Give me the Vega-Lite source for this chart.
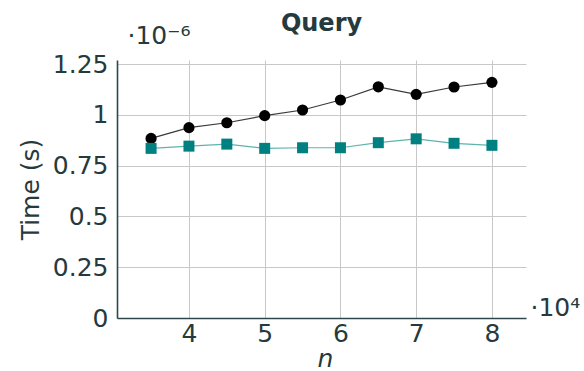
{
  "$schema": "https://vega.github.io/schema/vega-lite/v6.json",
  "width": 409,
  "height": 258,
  "autosize": {"type": "none"},
  "padding": {"left": 117, "top": 60, "right": 58, "bottom": 53},
  "background": "white",
  "title": {"text": "Query", "font": "DejaVu Sans", "fontSize": 24, "fontWeight": "bold", "color": "#243a3e", "anchor": "middle", "frame": "group", "offset": -13},
  "data": {"values": [
    {"n": 3.5, "time": 0.884, "s": "A"},
    {"n": 4.0, "time": 0.937, "s": "A"},
    {"n": 4.5, "time": 0.961, "s": "A"},
    {"n": 5.0, "time": 0.996, "s": "A"},
    {"n": 5.5, "time": 1.024, "s": "A"},
    {"n": 6.0, "time": 1.073, "s": "A"},
    {"n": 6.5, "time": 1.138, "s": "A"},
    {"n": 7.0, "time": 1.101, "s": "A"},
    {"n": 7.5, "time": 1.137, "s": "A"},
    {"n": 8.0, "time": 1.160, "s": "A"},
    {"n": 3.5, "time": 0.835, "s": "B"},
    {"n": 4.0, "time": 0.846, "s": "B"},
    {"n": 4.5, "time": 0.856, "s": "B"},
    {"n": 5.0, "time": 0.835, "s": "B"},
    {"n": 5.5, "time": 0.838, "s": "B"},
    {"n": 6.0, "time": 0.838, "s": "B"},
    {"n": 6.5, "time": 0.863, "s": "B"},
    {"n": 7.0, "time": 0.882, "s": "B"},
    {"n": 7.5, "time": 0.860, "s": "B"},
    {"n": 8.0, "time": 0.850, "s": "B"}
  ]},
  "layer": [
    {
      "encoding": {
        "x": {"field": "n", "type": "quantitative", "scale": {"domain": [3.05, 8.45], "nice": false, "zero": false},
              "axis": {"values": [4, 5, 6, 7, 8], "format": "d", "title": "n", "titleFontStyle": "italic", "titleFontWeight": "normal", "titleX": 208, "titleY": 40, "titleBaseline": "middle", "titleAlign": "center", "labelPadding": 3, "grid": true}},
        "y": {"field": "time", "type": "quantitative", "scale": {"domain": [0, 1.27], "nice": false},
              "axis": {"values": [0, 0.25, 0.5, 0.75, 1, 1.25], "format": ".3~f", "title": "Time (s)", "titleFontWeight": "normal", "titleAngle": -90, "titleX": -87, "titleY": 129, "titleAlign": "center", "titleBaseline": "middle", "labelPadding": 9, "grid": true}}
      },
      "layer": [
        {"transform": [{"filter": "datum.s === 'A'"}], "mark": {"type": "line", "color": "#3a3a3a", "strokeWidth": 1.2}},
        {"transform": [{"filter": "datum.s === 'A'"}], "mark": {"type": "point", "shape": "circle", "filled": true, "color": "#000000", "opacity": 1, "size": 125}},
        {"transform": [{"filter": "datum.s === 'B'"}], "mark": {"type": "line", "color": "#5fb3ae", "strokeWidth": 1.2}},
        {"transform": [{"filter": "datum.s === 'B'"}], "mark": {"type": "point", "shape": "square", "filled": true, "color": "#008080", "opacity": 1, "size": 121}}
      ]
    },
    {
      "mark": {"type": "point", "opacity": 0},
      "encoding": {
        "x": {"field": "n", "type": "quantitative",
              "axis": {"orient": "bottom", "labels": false, "ticks": false, "domain": false, "grid": false, "title": "·10⁴", "titleFontWeight": "normal", "titleX": 413, "titleY": -11, "titleAlign": "left", "titleBaseline": "middle"}},
        "y": {"field": "time", "type": "quantitative",
              "axis": {"orient": "left", "labels": false, "ticks": false, "domain": false, "grid": false, "title": "·10⁻⁶", "titleFontWeight": "normal", "titleAngle": 0, "titleX": 10, "titleY": -25, "titleAlign": "left", "titleBaseline": "middle"}}
      }
    }
  ],
  "resolve": {"axis": {"x": "independent", "y": "independent"}},
  "config": {
    "view": {"stroke": null},
    "axis": {
      "labelFont": "DejaVu Sans", "labelFontSize": 25, "labelColor": "#263a3d",
      "titleFont": "DejaVu Sans", "titleFontSize": 25, "titleColor": "#263a3d",
      "domainColor": "#2e474a", "domainWidth": 1.6,
      "gridColor": "#c8c8c8", "gridWidth": 1, "gridOpacity": 1,
      "ticks": false
    }
  }
}
